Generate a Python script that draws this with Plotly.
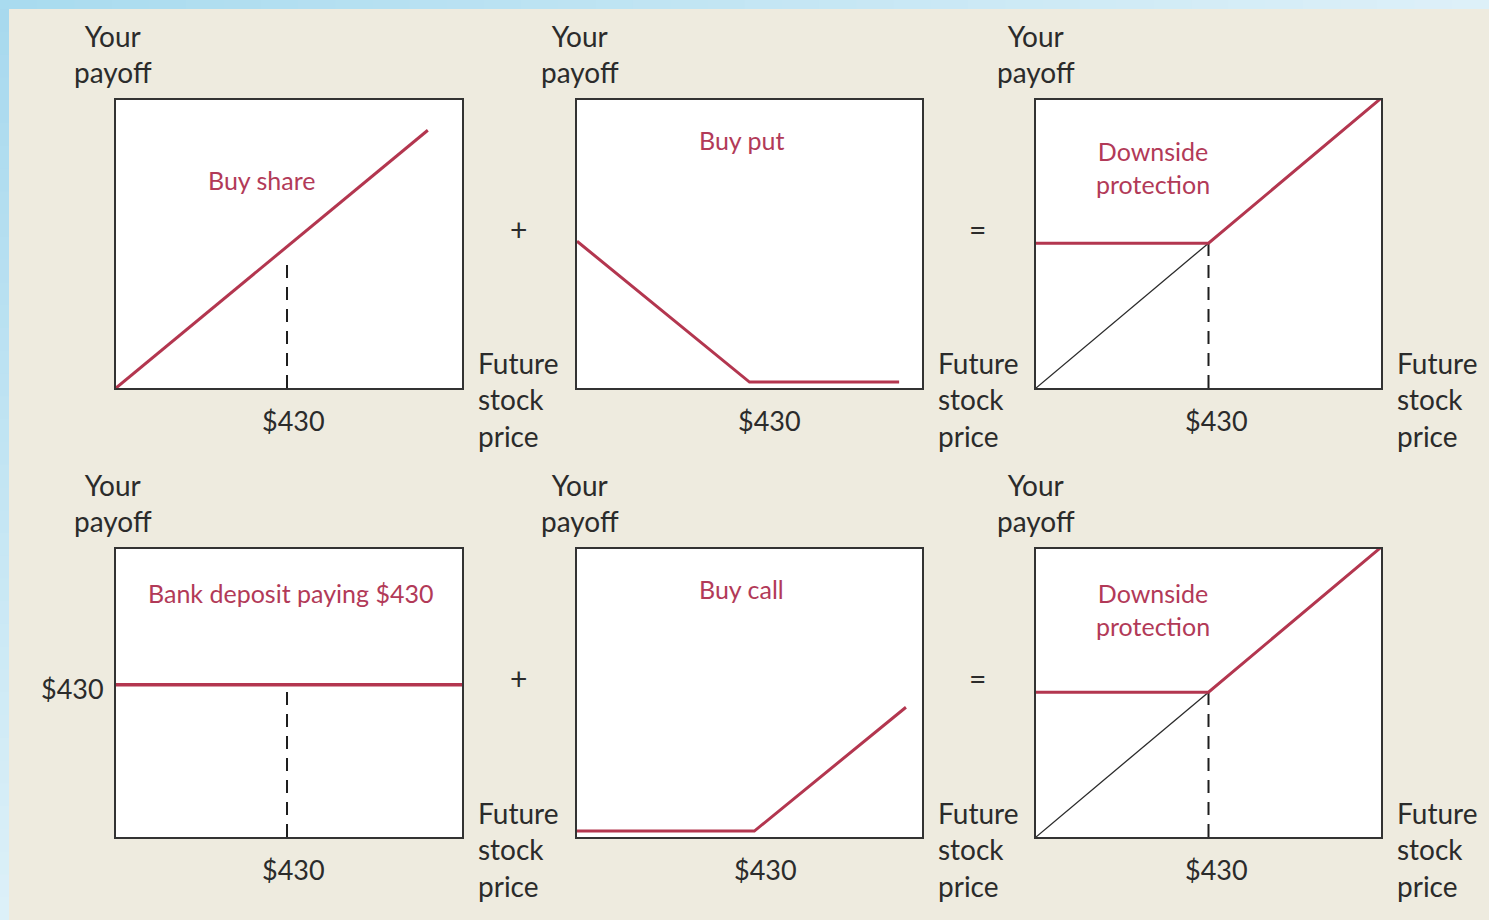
import plotly.graph_objects as go

W, H = 1489, 920

# ---------------- data ----------------
strike = 430
# panel 1: buy share
share_x = [0, 784]
share_y = [0, 784]
# panel 2: buy put
put_x = [0, 430, 803]
put_y = [430, 0, 0]
# panel 3 / 6: protective put (share + put) and share underneath
prot_x = [0, 430, 860]
prot_y = [430, 430, 860]
under_x = [0, 430]
under_y = [0, 430]
# panel 4: bank deposit
bank_x = [0, 890]
bank_y = [430, 430]
# panel 5: buy call
call_x = [-12, 430, 808]
call_y = [0, 0, 378]
# dashed strike guides (top of guide per panel, None = no guide)
guide_tops = [383, None, 430, 430, None, 430]

panel_titles = ["Buy share", "Buy put", "Downside<br>protection",
                "Bank deposit paying $430", "Buy call", "Downside<br>protection"]
tick_label = "$430"
ops = ["+", "=", "+", "="]

RED = "#B3364F"
TRED = "#B23A58"
DARK = "#2B2B2B"
BG = "#EEEBDF"
FONT = "Lato, 'Open Sans', sans-serif"

# panel pixel boxes (left, top, right, bottom)
boxes = [(116, 100, 462, 388), (577, 100, 922, 388), (1036, 100, 1381, 388),
         (116, 549, 462, 837), (577, 549, 922, 837), (1036, 549, 1381, 837)]
xranges = [[0, 870], [0, 860], [0, 860], [0, 870], [-12, 848], [0, 860]]
yranges = [[0, 876], [-18, 861], [0, 855], [0, 814], [-18, 861], [0, 855]]

def px(x):
    return x / W

def py(y):
    return 1 - y / H

fig = go.Figure()

series = [
    [(share_x, share_y, RED, 3)],
    [(put_x, put_y, RED, 3)],
    [(under_x, under_y, DARK, 1.3), (prot_x, prot_y, RED, 3)],
    [(bank_x, bank_y, RED, 3.5)],
    [(call_x, call_y, RED, 3)],
    [(under_x, under_y, DARK, 1.3), (prot_x, prot_y, RED, 3)],
]

layout_axes = {}
for i, (box, xr, yr) in enumerate(zip(boxes, xranges, yranges)):
    n = i + 1
    xa = "x" if n == 1 else f"x{n}"
    ya = "y" if n == 1 else f"y{n}"
    l, t, r, b = box
    common = dict(showgrid=False, zeroline=False, showticklabels=False, ticks="",
                  showline=True, linecolor="#333333", linewidth=2, mirror=True,
                  fixedrange=True)
    layout_axes["xaxis" if n == 1 else f"xaxis{n}"] = dict(
        domain=[px(l), px(r)], range=xr, anchor=ya, **common)
    layout_axes["yaxis" if n == 1 else f"yaxis{n}"] = dict(
        domain=[py(b), py(t)], range=yr, anchor=xa, **common)
    if guide_tops[i] is not None:
        fig.add_trace(go.Scatter(x=[strike, strike], y=[0, guide_tops[i]], mode="lines",
                                 line=dict(color="#1E1E1E", width=2, dash="13px,9px"),
                                 xaxis=xa, yaxis=ya, hoverinfo="skip", showlegend=False))
    for sx, sy, col, w in series[i]:
        fig.add_trace(go.Scatter(x=sx, y=sy, mode="lines",
                                 line=dict(color=col, width=w),
                                 xaxis=xa, yaxis=ya, hoverinfo="skip", showlegend=False))

annotations = []

def ann(text, x, y, size=28, color=DARK, xanchor="center", align="center"):
    annotations.append(dict(text=text, x=px(x), y=py(y), xref="paper", yref="paper",
                            showarrow=False, xanchor=xanchor, yanchor="middle",
                            align=align, font=dict(family=FONT, size=size, color=color)))

# axis labels
your_x = [113, 580, 1036, 113, 580, 1036]
for (l, t, r, b), yx in zip(boxes, your_x):
    ann("Your<br>payoff", yx, t - 46, size=28)
    ann("Future<br>stock<br>price", r + 14, b + 12, size=28, xanchor="left", align="left")

# $430 labels under panels
tick_x = [293, 769, 1216, 293, 766, 1216]
for (l, t, r, b), tx in zip(boxes, tick_x):
    ann(tick_label, tx, b + 32, size=27)
# y tick label on bank deposit panel
ann(tick_label, 72, 688, size=27)

# operators
op_pos = [(518, 229), (977, 229), (518, 678), (977, 678)]
for o, (ox, oy) in zip(ops, op_pos):
    ann(o, ox, oy, size=30)

# red panel titles
title_pos = [(262, 180), (741, 140), (1153, 167), (290, 593), (741, 589), (1153, 609)]
for ttl, (tx, ty) in zip(panel_titles, title_pos):
    ann(ttl, tx, ty, size=25, color=TRED)

# background with light blue gradient edge
def mix(c1, c2, f):
    a = [int(c1[i:i + 2], 16) for i in (1, 3, 5)]
    b = [int(c2[i:i + 2], 16) for i in (1, 3, 5)]
    return "#%02X%02X%02X" % tuple(round(a[k] + (b[k] - a[k]) * f) for k in range(3))

shapes = []
NSEG = 40
for k in range(NSEG):
    c = mix("#A9DBEF", "#DDF0F8", k / (NSEG - 1))
    shapes.append(dict(type="rect", xref="paper", yref="paper", layer="below",
                       x0=k / NSEG, x1=(k + 1) / NSEG + 0.001, y0=py(9), y1=1,
                       fillcolor=c, line=dict(width=0)))
for k in range(NSEG):
    c = mix("#A8D9EE", "#DCF0F8", k / (NSEG - 1))
    y_top = 9 + k * (H - 9) / NSEG
    y_bot = 9 + (k + 1) * (H - 9) / NSEG + 1
    shapes.append(dict(type="rect", xref="paper", yref="paper", layer="below",
                       x0=0, x1=px(9), y0=py(y_bot), y1=py(y_top),
                       fillcolor=c, line=dict(width=0)))

fig.update_layout(
    width=W, height=H,
    margin=dict(l=0, r=0, t=0, b=0),
    paper_bgcolor=BG, plot_bgcolor="white",
    showlegend=False,
    annotations=annotations,
    shapes=shapes,
    **layout_axes,
)

fig.write_html("out.html", config={"displayModeBar": False},
               post_script="document.body.style.margin='0';document.body.style.overflow='hidden';")
